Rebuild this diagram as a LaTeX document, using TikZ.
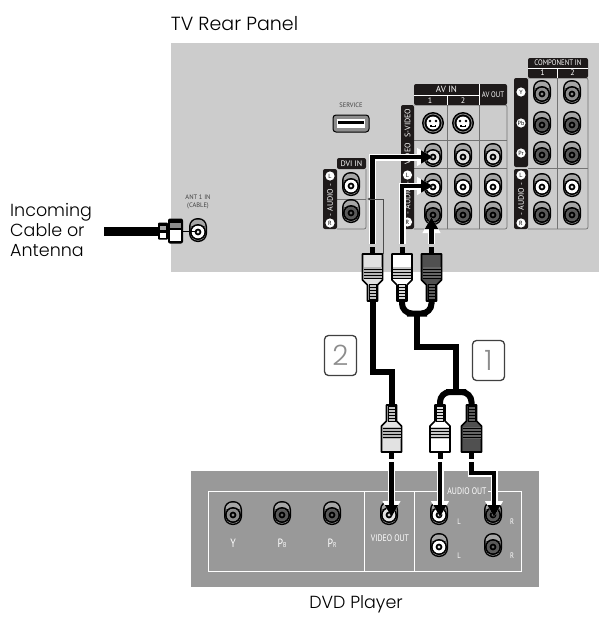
\documentclass[tikz,border=0pt]{standalone}
\usepackage{fontspec}
\setmainfont{Poppins Light}
\newfontfamily\labelfont{PT Sans}
\usetikzlibrary{arrows.meta}
\definecolor{panelgray}{HTML}{CCCCCC}
\definecolor{dvdgray}{HTML}{999999}
\definecolor{plugdark}{HTML}{505050}
\definecolor{plugpale}{HTML}{E2E2E2}
\definecolor{headblack}{HTML}{1E1A1A}
\definecolor{jackdark}{HTML}{595959}
\definecolor{jackmid}{HTML}{8C8C8C}
\tikzset{
  headbox/.style={fill=headblack},
  gridline/.style={draw=black!55, line width=0.7pt},
  cable/.style={line width=6pt, draw=black},
  wireback/.style={line width=7pt, draw=white, -{Triangle[length=16pt,width=17pt]}},
  wirefront/.style={line width=4.4pt, draw=black, -{Triangle[length=12pt,width=12.5pt]}},
  headtext/.style={text=white, font=\labelfont\fontsize{8}{8}\selectfont, inner sep=0pt},
  sidetext/.style={headtext, rotate=90},
  dvdtext/.style={text=white, font=\labelfont\fontsize{9.5}{10}\selectfont, inner sep=0pt, xscale=.82},
  dvdletter/.style={text=white, font=\labelfont\fontsize{12}{12}\selectfont, inner sep=0pt, xscale=.82},
  dvdsmall/.style={text=white, font=\labelfont\fontsize{8}{8}\selectfont, inner sep=0pt, xscale=.82},
  bigtext/.style={font=\fontsize{17.5}{20}\selectfont, inner sep=0pt},
  numbox/.style={draw=black!75, line width=1.3pt, rounded corners=4pt, minimum width=32pt, minimum height=40pt, text=black!45, font=\fontsize{28}{28}\selectfont, inner sep=0pt},
  pics/jack/.style={code={
    \fill[black, rounded corners=8.5pt] (-9,-14) rectangle (9,10);
    \fill[black!35, rounded corners=7pt] (-7.5,-12.5) rectangle (7.5,8.5);
    \fill[black!65] (-7.5,-6) rectangle (7.5,-5);
    \fill[black] (0,0) circle (8);
    \fill[#1] (0,0) circle (6.3);
    \fill[black] (0,0) circle (3.4);
    \fill[#1!80!gray] (0,0) circle (1.7);
  }},
  pics/plug/.style={code={
    \coordinate (-wire) at (0,-10);
    \coordinate (-tail) at (0,47);
    \fill[black] (-2.5,-7) rectangle (2.5,0);
    \filldraw[fill=#1, draw=black, line width=1.6pt, line join=round]
      (-10,0) -- (10,0) -- (10,26) -- (5,31) -- (5,47) -- (-5,47) -- (-5,31) -- (-10,26) -- cycle;
    \fill[#1!55!gray] (-9,13) rectangle (9,25);
    \foreach \r in {15,18,21,24}
      \draw[black, line width=.8pt] (-9,\r) -- (9,\r);
    \fill[black] (-4,30) rectangle (4,46);
    \foreach \r in {32,35,38,41,44}
      \draw[#1!70!gray, line width=1.5pt] (-3,\r) -- (3,\r);
  }},
  pics/svideo/.style={code={
    \fill[black] (0,0) circle (11);
    \draw[black!45, line width=.8pt] (0,0) circle (9);
    \fill[white] (0,0) circle (6.5);
    \foreach \x in {-3,3}
      \fill[black] (\x,-2) circle (1.3);
    \fill[black] (-3,1.5) rectangle (3,3.5);
    \fill[white] (-1.5,2) rectangle (1.5,3);
  }}
}
\newcommand{\sidemark}[4]{\fill[white] (#1,#2) circle (4.6);
  \node[inner sep=0pt, font=\labelfont\fontsize{6}{6}\selectfont] (#4) at (#1,#2) {#3};}
\begin{document}
\begin{tikzpicture}[x=1pt, y=-1pt]
\useasboundingbox (0,0) rectangle (599,619);
\fill[panelgray] (171,43) rectangle (599,272);
\fill[dvdgray] (191,471) rectangle (539,587);

\node[bigtext, font=\fontsize{19}{20}\selectfont] (tvtitle) at (234.5,24) {TV Rear Panel};
\node[bigtext, align=left, anchor=west] (incoming) at (10,230) {Incoming\\Cable or\\Antenna};
\node[bigtext] (dvdtitle) at (356,604) {DVD Player};

% service port
\node[inner sep=0pt, font=\labelfont\fontsize{6.5}{7}\selectfont, text=black!75] (servicetext) at (351,105) {SERVICE};
\draw[black, fill=black!45, line width=1pt, rounded corners=3pt] (333,115) rectangle (369,132);
\fill[white] (337,119) rectangle (365,128);
\fill[black] (338,121) rectangle (364,124);

% dvi in
\draw[gridline, rounded corners=2pt] (337,229) -- (366,229) -- (366,169);
\draw[gridline] (337,199) -- (366,199);
\fill[headbox, rounded corners=2pt] (337,158) rectangle (366,169);
\fill[headbox, rounded corners=2pt] (323,169) rectangle (337,229);
\node[headtext] (dvitext) at (351.5,163.5) {DVI IN};
\node[sidetext] (dviaudio) at (330,200) {- AUDIO -};
\sidemark{330}{176}{L}{dvil}
\sidemark{330}{223}{R}{dvir}
\pic at (351,186) {jack=white};
\pic at (351,213) {jack=jackdark};

% av in
\draw[gridline, rounded corners=2pt] (414,105) -- (507,105) -- (507,229) -- (414,229);
\foreach \y in {140,168}
  \draw[gridline] (414,\y) -- (507,\y);
\foreach \x in {447,479}
  \draw[gridline] (\x,105) -- (\x,229);
\fill[headbox, rounded corners=2pt] (414,84) rectangle (507,105);
\draw[white, line width=.6pt] (414,95) -- (479,95) (447,95) -- (447,105) (479,84) -- (479,105);
\fill[headbox, rounded corners=2pt] (401,105) rectangle (414,229);
\node[headtext, font=\labelfont\fontsize{9}{9}\selectfont] (avintext) at (446.5,89.5) {AV IN};
\node[headtext] (avoneno) at (430,100.5) {1};
\node[headtext] (avtwono) at (463,100.5) {2};
\node[headtext, xscale=.85] (avouttext) at (493,94.5) {AV OUT};
\node[sidetext] (svideotext) at (407.5,123) {S-VIDEO};
\node[sidetext] (videotext) at (407.5,154) {VIDEO};
\node[sidetext] (avaudio) at (407.5,198) {- AUDIO -};
\sidemark{407.5}{175}{L}{avl}
\sidemark{407.5}{222}{R}{avr}
\foreach \x in {433,463}
  \pic at (\x,123) {svideo};
\foreach \x in {433,463,493} {
  \pic at (\x,157) {jack=plugpale};
  \pic at (\x,187) {jack=white};
  \pic at (\x,215) {jack=jackdark};
}

% component in
\draw[gridline, rounded corners=2pt] (528,78) -- (588,78) -- (588,229) -- (528,229);
\draw[gridline] (528,168) -- (588,168);
\draw[gridline] (557,78) -- (557,229);
\fill[headbox, rounded corners=2pt] (528,58) rectangle (588,78);
\draw[white, line width=.6pt] (528,68) -- (588,68) (557,68) -- (557,78);
\fill[headbox, rounded corners=2pt] (514,78) rectangle (528,167);
\fill[headbox, rounded corners=2pt] (514,169) rectangle (528,229);
\node[headtext, xscale=.85] (comptext) at (558,63) {COMPONENT IN};
\node[headtext] (componeno) at (542.5,73) {1};
\node[headtext] (comptwono) at (572.5,73) {2};
\node[sidetext] (compaudio) at (521,199) {- AUDIO -};
\sidemark{521}{92}{Y}{compy}
\sidemark{521}{123}{Pb}{comppb}
\sidemark{521}{153}{Pr}{comppr}
\sidemark{521}{175}{L}{compl}
\sidemark{521}{223}{R}{compr}
\foreach \x in {542,572} {
  \pic at (\x,94) {jack=jackmid};
  \pic at (\x,125) {jack=jackdark};
  \pic at (\x,155) {jack=jackdark};
  \pic at (\x,187) {jack=white};
  \pic at (\x,215) {jack=jackdark};
}

% antenna
\node[inner sep=0pt, align=center, font=\labelfont\fontsize{6.5}{8}\selectfont, text=black!75] (anttext) at (198,202) {ANT 1 IN\\(CABLE)};
\pic at (198,232) {jack=white};
\coordinate (cablestart) at (104,231);
\node[fill=black, minimum width=15pt, minimum height=25pt, inner sep=0pt, rounded corners=2pt] (antnut) at (175.5,231) {};
\node[fill=black, minimum width=10pt, minimum height=17pt, inner sep=0pt, rounded corners=1pt] (antneck) at (163,231) {};
\draw[line width=9pt] (cablestart) -- (antneck.west);
\fill[black!45] (170,223) rectangle (181,228);
\fill[white] (170,230) rectangle (181,241);
\fill[black!35] (160,226) rectangle (166,230);
\fill[white] (160,233) rectangle (166,238);
\coordinate (antpin) at (197,231);
\draw[line width=1pt] (antnut.east) -- (antpin);

% dvd player
\draw[white, line width=1pt] (443,491) -- (208,491) -- (208,571) -- (521,571) -- (521,491) -- (488,491);
\foreach \x in {364,414}
  \draw[white, line width=1pt] (\x,491) -- (\x,571);
\pic at (233,515) {jack=jackmid};
\pic at (282,515) {jack=jackdark};
\pic at (332,515) {jack=jackdark};
\pic at (389,515) {jack=plugpale};
\pic at (439,515) {jack=white};
\pic at (493,515) {jack=jackdark};
\pic at (439,547) {jack=white};
\pic at (493,547) {jack=jackdark};
\node[dvdletter] (ytext) at (233,543) {Y};
\node[dvdletter] (pbtext) at (282,543) {P\fontsize{7}{7}\selectfont B};
\node[dvdletter] (prtext) at (332,543) {P\fontsize{7}{7}\selectfont R};
\node[dvdtext] (videoouttext) at (390,538) {VIDEO OUT};
\node[dvdtext] (audioouttext) at (467,491) {AUDIO OUT};
\foreach \y/\n in {522/a,556/b} {
  \node[dvdsmall] (ltext\n) at (459,\y) {L};
  \node[dvdsmall] (rtext\n) at (512,\y) {R};
}

% plugs
\pic (tvvideo) at (372.5,254) {plug=plugpale};
\pic (tvleft) at (402,254) {plug=white};
\pic (tvright) at (431.5,254) {plug=plugdark};
\pic[yscale=-1] (dvdvideo) at (391.5,452) {plug=plugpale};
\pic[yscale=-1] (dvdleft) at (440,452) {plug=white};
\pic[yscale=-1] (dvdright) at (471.5,452) {plug=plugdark};

% cables
\coordinate (videobend) at (372.5,372);
\coordinate (upjoin) at (417,313.5);
\coordinate (lowjoin) at (456,392);
\coordinate (stembend) at (417,347);
\draw[cable] (tvvideo-tail) -- (videobend) -| (dvdvideo-tail);
\draw[cable, rounded corners=10pt] (tvleft-tail) |- (upjoin) -| (tvright-tail);
\draw[cable] (upjoin) -- (stembend) -| (lowjoin);
\draw[cable, rounded corners=10pt] (dvdleft-tail) |- (lowjoin) -| (dvdright-tail);

% arrows
\coordinate (videoin) at (433,157);
\coordinate (leftin) at (433,186);
\coordinate (rightin) at (431.5,217);
\coordinate (videoout) at (391.5,517);
\coordinate (leftout) at (440,517);
\coordinate (rightout) at (494,517);
\coordinate (rightbend) at (494,473);
\foreach \w in {wireback,wirefront} {
  \draw[\w] (tvvideo-wire) |- (videoin);
  \draw[\w] (tvleft-wire) |- (leftin);
  \draw[\w] (tvright-wire) -- (rightin);
  \draw[\w] (dvdvideo-wire) -- (videoout);
  \draw[\w] (dvdleft-wire) -- (leftout);
  \draw[\w] (dvdright-wire) |- (rightbend) -- (rightout);
}
\coordinate (dvimark) at (367,199);
\draw[black!70, line width=.7pt, -{Latex[length=3pt,width=3pt]}] (383,254) |- (dvimark);

\node[numbox] (numtwo) at (340.5,355.5) {2};
\node[numbox] (numone) at (488.5,360.5) {1};
\end{tikzpicture}
\end{document}
